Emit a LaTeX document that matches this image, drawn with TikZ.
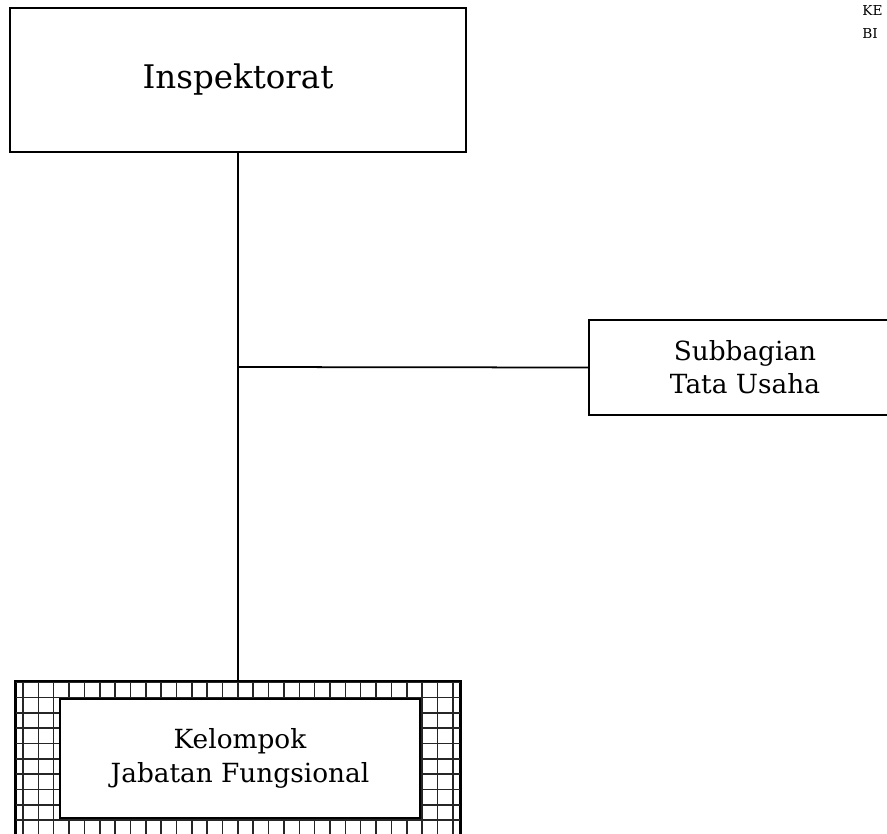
\documentclass[tikz,border=0pt]{standalone}
\usepackage{fontspec}
\setmainfont{DejaVu Serif}
\usepackage{tikz}
\usetikzlibrary{positioning,calc}

\tikzset{
    unit/.style={draw, line width=1pt, align=center, inner sep=0pt},
    link/.style={line width=1pt},
    gridline/.style={line width=0.9pt, black!85}
}

\begin{document}
\begin{tikzpicture}[x=0.02cm, y=-0.02cm]
    \useasboundingbox (0,0) rectangle (887,833);

    % Heading (cut off at the edge)
    \node[anchor=base west, inner sep=0pt, font=\fontsize{7.8}{10}\selectfont] (hdra) at (862,15) {KE};
    \node[anchor=base west, inner sep=0pt, font=\fontsize{7.8}{10}\selectfont] (hdrb) at (862,38) {BI};

    % Inspektorat
    \node[unit, minimum width=9.12cm, minimum height=2.88cm, font=\fontsize{18.5}{22}\selectfont] (insp) at (238,80) {Inspektorat};

    % Subbagian Tata Usaha
    \node[unit, minimum width=6.24cm, minimum height=1.9cm, font=\fontsize{15}{18.7}\selectfont] (tu) at (745,367.5) {Subbagian\\Tata Usaha};

    % Kelompok Jabatan Fungsional (grid frame)
    \node[unit, minimum width=8.88cm, minimum height=3.06cm] (jfgrid) at (238,758.5) {};
    \begin{scope}
        \clip (jfgrid.south west) rectangle (jfgrid.north east);
        \foreach \i in {0,...,29}
            \draw[gridline] ({23+15.35*\i},600) -- ++(0,300);
        \foreach \j in {0,...,10}
            \draw[gridline] (0,{682+15.35*\j}) -- ++(500,0);
    \end{scope}
    \draw[line width=1.3pt] (jfgrid.south west) rectangle (jfgrid.north east);
    \node[unit, line width=1.3pt, fill=white, minimum width=7.2cm, minimum height=2.38cm, font=\fontsize{15}{19.5}\selectfont] (jf) at (240,758.5) {Kelompok\\Jabatan Fungsional};

    % Lines
    \draw[link] (insp.south) -- (jfgrid.north);
    \coordinate (br) at (238,367);
    \draw[link] (br) -- (tu.west);
\end{tikzpicture}
\end{document}
